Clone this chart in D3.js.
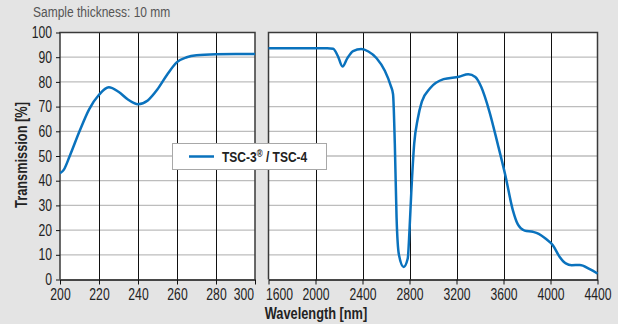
<!DOCTYPE html>
<html>
<head>
<meta charset="utf-8">
<script src="https://cdn.jsdelivr.net/npm/d3@7"></script>
<style>
  body { margin: 0; background: #e4e4e4; }
  svg { display: block; font-family: "Liberation Sans", Arial, sans-serif; }
</style>
</head>
<body>
<div id="chart"></div>
<script>
// UV range (nm) and transmission (%)
const uvWavelength = [200, 202, 205, 210, 215, 220, 225, 230, 235, 240, 245, 250, 255, 260, 265, 270, 280, 290, 300];
const uvTransmission = [43, 44.5, 50, 60, 69, 74.8, 77.8, 76, 72.8, 71, 72.5, 77, 83, 88, 90, 90.8, 91.2, 91.3, 91.3];

// IR range (nm) and transmission (%)
const irWavelength = [1600, 1800, 2000, 2100, 2150, 2190, 2230, 2270, 2320, 2390, 2450, 2520, 2590, 2640, 2660, 2675, 2690, 2710, 2750, 2785, 2800, 2815, 2840, 2870, 2905, 2975, 3090, 3220, 3300, 3360, 3410, 3480, 3550, 3615, 3680, 3720, 3780, 3850, 3900, 3960, 4020, 4080, 4130, 4180, 4250, 4330, 4400];
const irTransmission = [93.6, 93.6, 93.6, 93.6, 93.4, 90.5, 86.2, 89.5, 92.5, 93.3, 92.3, 89.6, 84.5, 78.5, 75, 55, 25, 10, 5.1, 8.5, 20, 35, 55, 65, 72, 77.4, 81.1, 82.1, 83.1, 82, 78, 68, 55, 42.3, 28, 22.5, 19.8, 19.3, 18.5, 16.5, 13.9, 9, 6.5, 5.8, 5.9, 4.3, 2.4];

const uvTicks = [200, 220, 240, 260, 280, 300];
const irTicks = [1600, 2000, 2400, 2800, 3200, 3600, 4000, 4400];
const yTicks = [0, 10, 20, 30, 40, 50, 60, 70, 80, 90, 100];

const title = 'Sample thickness: 10 mm';
const yLabel = 'Transmission [%]';
const xLabel = 'Wavelength [nm]';
const seriesName = 'TSC-3';
const seriesMark = '®';
const seriesRest = ' / TSC-4';

const W = 618, H = 324;
const lineColor = '#0a72bd';
const NARROW = 0.76; // no condensed face installed, squeeze glyphs instead

const svg = d3.select('#chart').append('svg')
  .attr('width', W)
  .attr('height', H);

svg.append('rect').attr('width', W).attr('height', H).attr('fill', '#e4e4e4');

const y = d3.scaleLinear().domain([0, 100]).range([279.5, 32.5]);
const xUV = d3.scaleLinear().domain([200, 300]).range([60, 255]);
const xIR = d3.scaleLinear().domain([1600, 4400]).range([268.5, 597.5]);

// put a text at (tx, ty) and squeeze it horizontally
function placeNarrow(sel, tx, ty, k, rot) {
  const r = rot ? ` rotate(${rot})` : '';
  sel.attr('transform', `translate(${tx},${ty})${r} scale(${k},1)`);
}

function drawPanel(x, ticks, xs, ys, name) {
  const [x0, x1] = x.range();
  const g = svg.append('g').attr('class', name);

  g.append('rect')
    .attr('x', x0).attr('y', y(100))
    .attr('width', x1 - x0).attr('height', y(0) - y(100))
    .attr('fill', '#fff');

  // horizontal grid
  g.selectAll('line.hgrid')
    .data(yTicks.filter(d => d > 0 && d < 100))
    .join('line')
    .attr('class', 'hgrid')
    .attr('x1', x0).attr('x2', x1)
    .attr('y1', d => y(d)).attr('y2', d => y(d))
    .attr('stroke', '#bdbdbd')
    .attr('stroke-width', 1.3);

  // vertical grid
  g.selectAll('line.vgrid')
    .data(ticks.slice(1, -1))
    .join('line')
    .attr('class', 'vgrid')
    .attr('x1', d => Math.round(x(d)) + 0.5).attr('x2', d => Math.round(x(d)) + 0.5)
    .attr('y1', y(100)).attr('y2', y(0))
    .attr('stroke', '#111')
    .attr('stroke-width', 1);

  // frame
  g.append('path')
    .attr('d', `M${x0},${y(0)}V${y(100)}H${x1}V${y(0)}`)
    .attr('fill', 'none')
    .attr('stroke', '#3a3a3a')
    .attr('stroke-width', 1.5);

  const pts = xs.map((d, i) => ({ x: d, y: ys[i] }));
  const line = d3.line()
    .x(d => x(d.x))
    .y(d => y(d.y))
    .curve(d3.curveMonotoneX);

  g.append('path')
    .datum(pts)
    .attr('d', line)
    .attr('fill', 'none')
    .attr('stroke', lineColor)
    .attr('stroke-width', 2.5)
    .attr('stroke-linejoin', 'round');

  const xAxis = d3.axisBottom(x)
    .tickValues(ticks)
    .tickFormat(d3.format('d'))
    .tickSize(5)
    .tickSizeOuter(0)
    .tickPadding(4);

  const ax = g.append('g')
    .attr('transform', `translate(0,${y(0)})`)
    .call(xAxis);
  ax.select('.domain').attr('stroke', '#111').attr('stroke-width', 1.5);
  ax.selectAll('.tick line').attr('stroke', '#111');
  ax.selectAll('.tick text')
    .attr('font-size', 16)
    .attr('fill', '#222')
    .attr('font-family', '"Liberation Sans", Arial, sans-serif')
    .attr('transform', `scale(${NARROW},1)`);
  return ax;
}

const axUV = drawPanel(xUV, uvTicks, uvWavelength, uvTransmission, 'uv');
const axIR = drawPanel(xIR, irTicks, irWavelength, irTransmission, 'ir');

// keep the labels at the panel gap apart
axUV.selectAll('.tick text').filter(d => d === 300).attr('text-anchor', 'end').attr('x', -2);
axIR.selectAll('.tick text').filter(d => d === 1600).attr('text-anchor', 'start').attr('x', -4);

// y axis
const yAxis = d3.axisLeft(y)
  .tickValues(yTicks)
  .tickSize(4)
  .tickSizeOuter(0)
  .tickPadding(4);

const ay = svg.append('g')
  .attr('transform', `translate(${xUV.range()[0]},0)`)
  .call(yAxis);
ay.select('.domain').remove();
ay.selectAll('.tick line').attr('stroke', '#111');
ay.selectAll('.tick text')
  .attr('font-size', 16)
  .attr('fill', '#222')
  .attr('font-family', '"Liberation Sans", Arial, sans-serif')
  .attr('x', -8 / NARROW)
  .attr('transform', `scale(${NARROW},1)`);

// titles
svg.append('text')
  .attr('font-size', 15)
  .attr('fill', '#555')
  .text(title)
  .call(placeNarrow, 33, 17, 0.8);

svg.append('text')
  .attr('text-anchor', 'middle')
  .attr('font-size', 16)
  .attr('font-weight', 'bold')
  .attr('fill', '#222')
  .text(yLabel)
  .call(placeNarrow, 27, 155, 0.8, -90);

svg.append('text')
  .attr('text-anchor', 'middle')
  .attr('font-size', 16)
  .attr('font-weight', 'bold')
  .attr('fill', '#222')
  .text(xLabel)
  .call(placeNarrow, 316, 319, 0.8);

// legend
const legend = svg.append('g').attr('transform', 'translate(172,143)');
legend.append('rect')
  .attr('x', 0.5).attr('y', 0.5)
  .attr('width', 154).attr('height', 26)
  .attr('fill', '#fff')
  .attr('stroke', '#a8a8a8');
legend.append('line')
  .attr('x1', 17).attr('x2', 42)
  .attr('y1', 13.5).attr('y2', 13.5)
  .attr('stroke', lineColor)
  .attr('stroke-width', 2.5);
const lt = legend.append('text')
  .attr('font-size', 15)
  .attr('font-weight', 'bold')
  .attr('fill', '#222')
  .call(placeNarrow, 50, 19, 0.8);
lt.append('tspan').text(seriesName);
lt.append('tspan').attr('font-size', 10).attr('dy', -5).text(seriesMark);
lt.append('tspan').attr('dy', 5).text(seriesRest);
</script>
</body>
</html>
